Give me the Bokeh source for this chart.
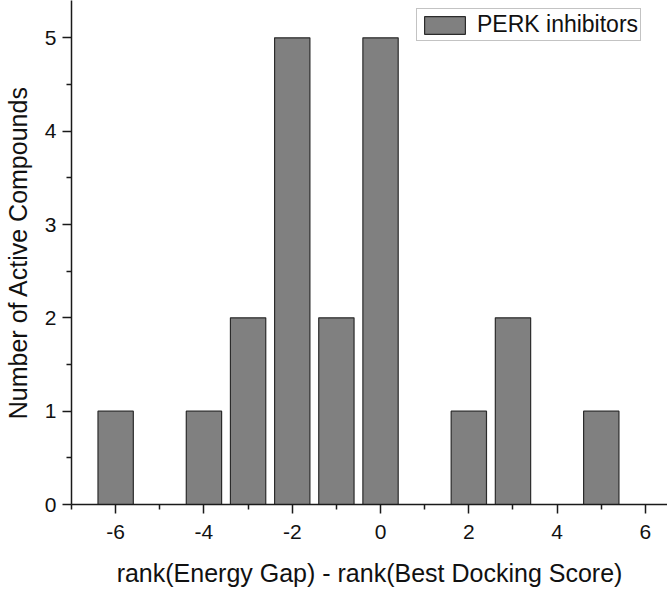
from bokeh.plotting import figure
from bokeh.models import Range1d, FixedTicker, ColumnDataSource, Legend, LegendItem, PrintfTickFormatter
from bokeh.embed import file_html
from bokeh.resources import INLINE

rank_diff = [-6, -4, -3, -2, -1, 0, 2, 3, 5]
counts = [1, 1, 2, 5, 2, 5, 1, 2, 1]
series_name = "PERK inhibitors"
x_label = "rank(Energy Gap) - rank(Best Docking Score)"
y_label = "Number of Active Compounds"
x_ticks = [-6, -4, -2, 0, 2, 4, 6]
x_minor = [-7, -5, -3, -1, 1, 3, 5]
y_ticks = [0, 1, 2, 3, 4, 5]
y_minor = [0.5, 1.5, 2.5, 3.5, 4.5]

src = ColumnDataSource(dict(x=rank_diff, top=counts))

p = figure(frame_width=596, frame_height=504, output_backend="svg", toolbar_location=None,
           x_range=Range1d(-7, 6.5), y_range=Range1d(0, 5.4),
           min_border_left=60, min_border_right=0, min_border_top=0, min_border_bottom=81)
p.outline_line_color = None
p.xgrid.visible = False
p.ygrid.visible = False

r = p.vbar(x="x", top="top", width=0.8, bottom=0, source=src,
           fill_color="#808080", line_color="#2b2b2b", line_width=1.2)

p.xaxis.ticker = FixedTicker(ticks=x_ticks, minor_ticks=x_minor)
p.yaxis.ticker = FixedTicker(ticks=y_ticks, minor_ticks=y_minor)
p.xaxis.formatter = PrintfTickFormatter(format="%d")
p.yaxis.formatter = PrintfTickFormatter(format="%d")
for ax in (p.xaxis, p.yaxis):
    ax.axis_line_color = "#1a1a1a"
    ax.axis_line_width = 1.5
    ax.major_tick_line_color = "#1a1a1a"
    ax.minor_tick_line_color = "#1a1a1a"
    ax.major_tick_line_width = 1.5
    ax.minor_tick_line_width = 1.5
    ax.major_tick_out = 9
    ax.major_tick_in = 0
    ax.minor_tick_out = 5
    ax.minor_tick_in = 0
    ax.major_label_text_font = "Liberation Sans"
    ax.major_label_text_font_size = "21px"
    ax.major_label_text_color = "#111111"
    ax.axis_label_text_font = "Liberation Sans"
    ax.axis_label_text_font_size = "25px"
    ax.axis_label_text_font_style = "normal"
    ax.axis_label_text_color = "#111111"
p.xaxis.axis_label = x_label
p.yaxis.axis_label = y_label
p.xaxis.major_label_standoff = 11
p.yaxis.major_label_standoff = 6
p.xaxis.axis_label_standoff = 17
p.yaxis.axis_label_standoff = 10

legend = Legend(items=[LegendItem(label=series_name, renderers=[r])], location=(345, 463),
                label_text_font="Liberation Sans", label_text_font_size="23px",
                label_text_color="#111111",
                border_line_color="#888888", border_line_width=1.5,
                glyph_width=51, glyph_height=22, padding=2, margin=0, spacing=0,
                label_standoff=7, label_height=22)
p.add_layout(legend)

open("out.html", "w").write(file_html(p, INLINE))
